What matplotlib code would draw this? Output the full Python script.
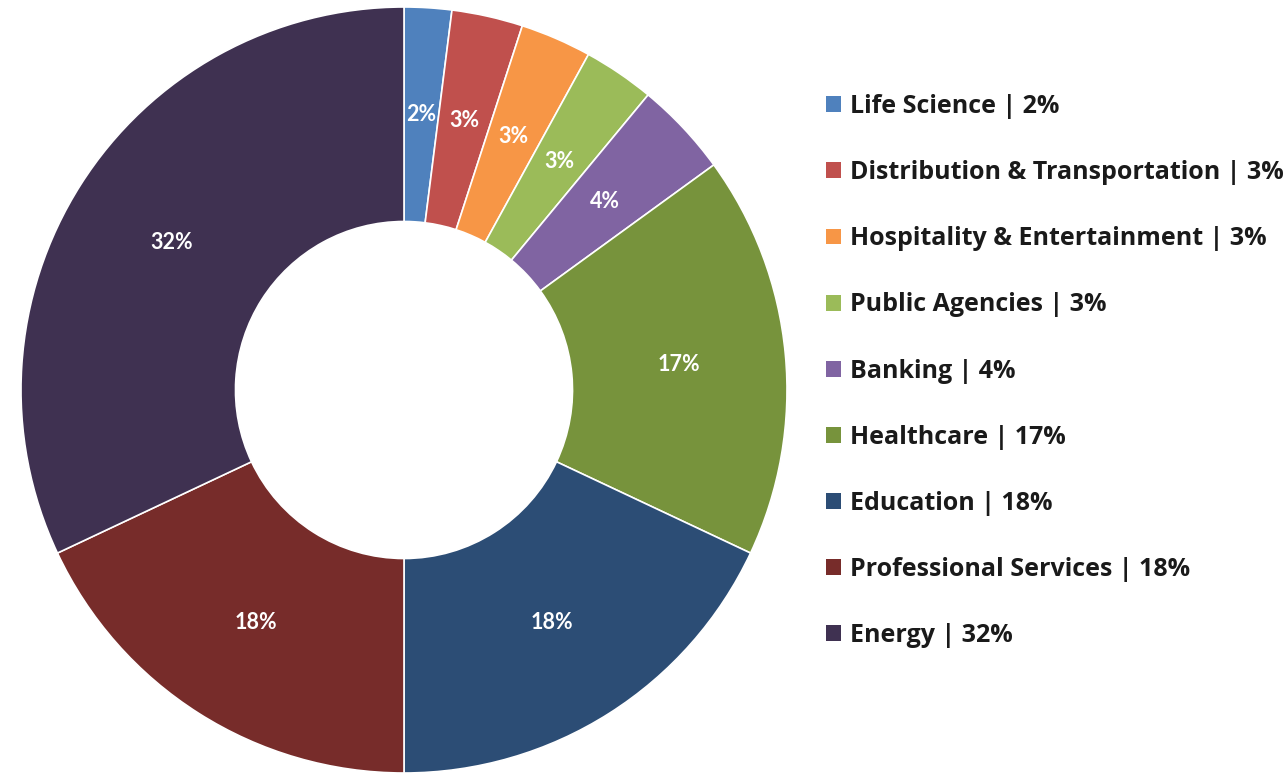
"""Donut chart of revenue share by industry, with a text legend on the right."""

import matplotlib
matplotlib.use("Agg")
import matplotlib.pyplot as plt

# --- Data ---
INDUSTRIES = [
    "Life Science",
    "Distribution & Transportation",
    "Hospitality & Entertainment",
    "Public Agencies",
    "Banking",
    "Healthcare",
    "Education",
    "Professional Services",
    "Energy",
]
SHARES = [2, 3, 3, 3, 4, 17, 18, 18, 32]
COLOURS = [
    "#4F81BD", "#C0504D", "#F79646", "#9BBB59", "#8064A2",
    "#77933C", "#2C4D75", "#772C2A", "#3F3151",
]

LABEL_FONT = ["Lato", "DejaVu Sans"]
LEGEND_FONT = ["Open Sans", "DejaVu Sans"]

fig = plt.figure(figsize=(12.88, 7.74), dpi=100)
fig.patch.set_facecolor("white")

# pie axes: centre ~ (404, 390) px, outer radius ~383 px
W, H = 1288, 774
cx, cy, r = 404, 390, 383
ax = fig.add_axes([(cx - r) / W, (H - cy - r) / H, 2 * r / W, 2 * r / H])

wedges, texts = ax.pie(
    SHARES,
    colors=COLOURS,
    startangle=90,
    counterclock=False,
    radius=1.0,
    labels=[f"{v}%" for v in SHARES],
    labeldistance=0.72,
    wedgeprops=dict(width=0.56, edgecolor="white", linewidth=1.2),
    textprops=dict(color="white", fontsize=15.5, fontweight="bold",
                   family=LABEL_FONT, va="center"),
)
for t in texts:
    t.set_horizontalalignment("center")

# pie() resets limits, so fix them afterwards
ax.set_xlim(-1, 1)
ax.set_ylim(-1, 1)
ax.set_aspect("equal")
ax.axis("off")

legend_labels = [f"{n} | {v}%" for n, v in zip(INDUSTRIES, SHARES)]
leg = fig.legend(
    wedges,
    legend_labels,
    loc="upper left",
    bbox_to_anchor=(826 / W, 1 - 94 / H),
    frameon=False,
    prop=dict(family=LEGEND_FONT, weight="bold", size=18),
    handlelength=0.6,
    handleheight=0.6,
    handletextpad=0.36,
    labelspacing=1.645,
    borderpad=0,
    borderaxespad=0,
)
for h in leg.legend_handles:
    h.set_edgecolor("none")
for t in leg.get_texts():
    t.set_color("#1a1a1a")

fig.savefig("out.png", dpi=100, facecolor="white")
